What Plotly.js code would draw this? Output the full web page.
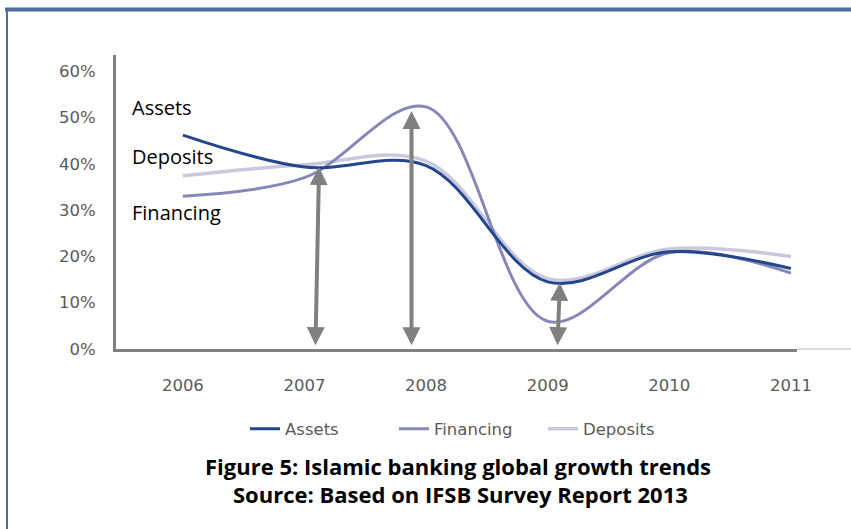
<!DOCTYPE html>
<html>
<head>
<meta charset="utf-8">
<script src="https://cdn.plot.ly/plotly-3.0.1.min.js"></script>
<style>
  html, body { margin: 0; padding: 0; background: #ffffff; }
  #chart { width: 851px; height: 529px; }
</style>
</head>
<body>
<div id="chart"></div>
<script>
// ---- data ----
const years = [2006, 2007, 2008, 2009, 2010, 2011];
const yearLabels = ['2006', '2007', '2008', '2009', '2010', '2011'];
const assets    = [46.2, 39.3, 39.6, 14.5, 21.0, 17.4];
const financing = [33.0, 37.0, 52.3, 6.0, 20.8, 16.4];
const deposits  = [37.4, 39.8, 40.6, 15.2, 21.6, 20.0];
const yTicks = [0, 10, 20, 30, 40, 50, 60];
const yTickLabels = ['0%', '10%', '20%', '30%', '40%', '50%', '60%'];
// double-headed arrows marking gaps (x of top, x of bottom, top value)
const arrowTopX    = [2007.12, 2007.88, 2009.10];
const arrowBottomX = [2007.09, 2007.88, 2009.08];
const arrowTopY    = [39.3, 51.4, 14.3];
const sideLabels = ['Assets', 'Deposits', 'Financing'];
const captionLines = ['Figure 5: Islamic banking global growth trends', 'Source: Based on IFSB Survey Report 2013'];

// ---- layout geometry (pixels) ----
const W = 851, H = 529;
const M = {l: 116, r: 54, t: 55, b: 180};
const PW = W - M.l - M.r, PH = H - M.t - M.b;
const px2x = p => (p - M.l) / PW;
const px2y = p => (H - M.b - p) / PH;

const tickFont = {family: 'DejaVu Sans, Arial, sans-serif', size: 16.5, color: '#5a5a5a'};

const traces = [
  {name: 'Deposits', x: years, y: deposits, type: 'scatter', mode: 'lines',
   line: {color: '#c9c9de', width: 3.5, shape: 'spline', smoothing: 1}, legendrank: 3},
  {name: 'Financing', x: years, y: financing, type: 'scatter', mode: 'lines',
   line: {color: '#8787b8', width: 3, shape: 'spline', smoothing: 1}, legendrank: 2},
  {name: 'Assets', x: years, y: assets, type: 'scatter', mode: 'lines',
   line: {color: '#23468c', width: 3, shape: 'spline', smoothing: 1}, legendrank: 1}
];

const annotations = [];
for (let i = 0; i < arrowTopX.length; i++) {
  annotations.push({
    x: arrowTopX[i], y: arrowTopY[i], xref: 'x', yref: 'y',
    ax: arrowBottomX[i], ay: 0.5, axref: 'x', ayref: 'y',
    text: '', showarrow: true, arrowside: 'end+start',
    arrowhead: 2, startarrowhead: 2, arrowsize: 0.9, startarrowsize: 0.9,
    arrowwidth: 4, arrowcolor: '#808080', standoff: 0, startstandoff: 0
  });
}
const sideY = [107, 156, 213];
sideLabels.forEach((t, i) => annotations.push({
  text: t, xref: 'paper', yref: 'paper', x: px2x(130), y: px2y(sideY[i]),
  xanchor: 'left', yanchor: 'middle', showarrow: false,
  font: {family: 'Open Sans, sans-serif', size: 20, color: '#000000'}
}));
const capY = [466, 494], capX = [458, 460];
captionLines.forEach((t, i) => annotations.push({
  text: '<b>' + t + '</b>', xref: 'paper', yref: 'paper', x: px2x(capX[i]), y: px2y(capY[i]),
  xanchor: 'center', yanchor: 'middle', showarrow: false,
  font: {family: 'Open Sans, sans-serif', size: 22, color: '#000000'}
}));

const shapes = [
  {type: 'line', xref: 'paper', yref: 'paper', x0: px2x(5), x1: px2x(W), y0: px2y(9.5), y1: px2y(9.5),
   line: {color: '#4f6d9b', width: 4}},
  {type: 'line', xref: 'paper', yref: 'paper', x0: px2x(7), x1: px2x(7), y0: px2y(8), y1: px2y(H),
   line: {color: '#4f6d9b', width: 2}},
  {type: 'line', xref: 'paper', yref: 'paper', x0: 1, x1: px2x(W), y0: 0, y1: 0,
   line: {color: '#dedede', width: 2}}
];

const layout = {
  width: W, height: H,
  margin: M,
  paper_bgcolor: '#ffffff', plot_bgcolor: '#ffffff',
  showlegend: true,
  legend: {orientation: 'h', x: px2x(245), y: px2y(429), xanchor: 'left', yanchor: 'middle',
           entrywidth: 104, entrywidthmode: 'pixels',
           font: {family: 'DejaVu Sans, Arial, sans-serif', size: 16.5, color: '#5a5a5a'},
           bgcolor: 'rgba(0,0,0,0)'},
  xaxis: {type: 'linear', range: [2005.45, 2011.05], tickvals: years, ticktext: yearLabels,
          showgrid: false, zeroline: false, showline: true, linecolor: '#808080', linewidth: 3,
          ticks: '', tickfont: tickFont, ticklabelstandoff: 19, fixedrange: true},
  yaxis: {range: [0, 63.5], tickvals: yTicks, ticktext: yTickLabels,
          showgrid: false, zeroline: false, showline: true, linecolor: '#808080', linewidth: 3,
          ticks: '', tickfont: tickFont, ticklabelstandoff: 14, fixedrange: true},
  annotations: annotations,
  shapes: shapes
};

Plotly.newPlot('chart', traces, layout, {displayModeBar: false, staticPlot: true});
</script>
</body>
</html>
